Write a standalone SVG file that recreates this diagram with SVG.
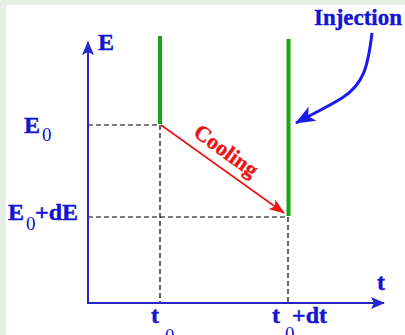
<svg xmlns="http://www.w3.org/2000/svg" width="405" height="335" viewBox="0 0 405 335">
<defs>
<style>
.lbl{font-family:"Liberation Serif","Times New Roman",serif;font-weight:bold;fill:#1414d4;stroke:#1414d4;stroke-width:0.4;font-size:24px}
.sub{font-family:"Liberation Serif","Times New Roman",serif;fill:#1414d4;font-size:19px}
.axis{stroke:#2626c8;stroke-width:2;fill:none}
.dash{stroke:#000;stroke-width:1.2;stroke-dasharray:5,3;fill:none}
.green{stroke:#14a814;stroke-width:4;fill:none}
</style>
<marker id="ablue" markerWidth="14" markerHeight="12" refX="13" refY="6" orient="auto" markerUnits="userSpaceOnUse">
<path d="M0,0 L14,6 L0,12 L3,6 Z" fill="#2626c8"/>
</marker>
<marker id="ared" markerWidth="16" markerHeight="12" refX="15" refY="6" orient="auto" markerUnits="userSpaceOnUse">
<path d="M0,0 L16,6 L0,12 L4,6 Z" fill="#ee1111"/>
</marker>
<marker id="ainj" markerWidth="20" markerHeight="16" refX="19" refY="8" orient="auto" markerUnits="userSpaceOnUse">
<path d="M0,0 L20,8 L0,16 L5,8 Z" fill="#1a1af0"/>
</marker>
</defs>
<rect x="0" y="0" width="405" height="335" fill="#e6efe3"/>
<rect x="6" y="5" width="399" height="330" fill="#ffffff"/>
<g id="connectors">
<line class="dash" x1="88" y1="125" x2="160" y2="125"/>
<line class="dash" x1="88" y1="217" x2="288" y2="217"/>
<line class="dash" x1="160" y1="125" x2="160" y2="303"/>
<line class="dash" x1="288" y1="217" x2="288" y2="303"/>
<line class="axis" x1="88" y1="304" x2="88" y2="42" marker-end="url(#ablue)"/>
<line class="axis" x1="87" y1="303" x2="384" y2="303" marker-end="url(#ablue)"/>
<line x1="161" y1="125" x2="284" y2="213" stroke="#ee1111" stroke-width="1.6" marker-end="url(#ared)"/>
<path d="M372,33 C368,66 364,84 342,98 C326,108 312,114 296,123" stroke="#1a1af0" stroke-width="3" fill="none" marker-end="url(#ainj)"/>
</g>
<g id="level-t0"><line class="green" x1="160" y1="36" x2="160" y2="124"/></g>
<g id="level-t0dt"><line class="green" x1="288.5" y1="39" x2="288.5" y2="216"/></g>
<g id="label-E"><text class="lbl" x="98" y="50">E</text></g>
<g id="label-t"><text class="lbl" x="377" y="290">t</text></g>
<g id="label-E0"><text class="lbl" x="24" y="133">E</text><text class="sub" x="42" y="141">0</text></g>
<g id="label-E0dE"><text class="lbl" x="8" y="220">E</text><text class="sub" x="26" y="230">0</text><text class="lbl" x="35" y="220">+dE</text></g>
<g id="label-t0"><text class="lbl" x="151" y="323">t</text><text class="sub" x="165" y="342">0</text></g>
<g id="label-t0dt"><text class="lbl" x="272" y="323">t</text><text class="sub" x="285" y="340">0</text><text class="lbl" x="292" y="323">+dt</text></g>
<g id="label-cooling"><text transform="translate(226,151) rotate(36)" x="0" y="7" text-anchor="middle" font-family="'Liberation Serif','Times New Roman',serif" font-weight="bold" font-size="22" fill="#ee1111" stroke="#ee1111" stroke-width="0.4">Cooling</text></g>
<g id="label-injection"><text class="lbl" x="314" y="25" textLength="88" lengthAdjust="spacingAndGlyphs">Injection</text></g>
</svg>
